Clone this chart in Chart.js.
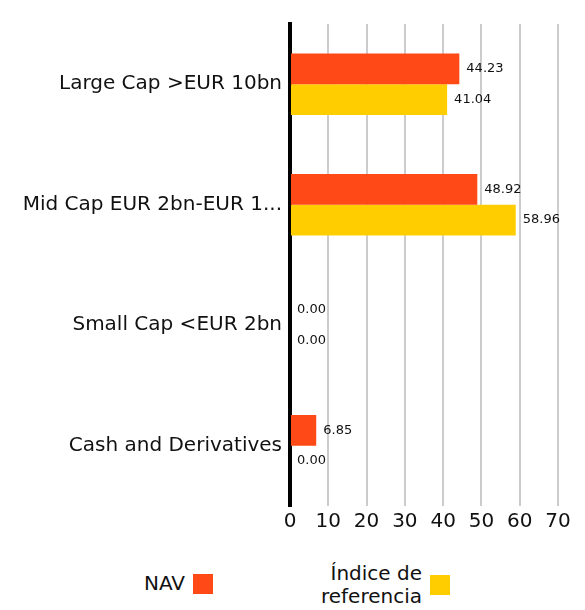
<!DOCTYPE html>
<html><head><meta charset="utf-8">
<script src="https://cdn.jsdelivr.net/npm/chart.js@4/dist/chart.umd.min.js"></script>
<style>
html,body{margin:0;padding:0;background:#fff;width:585px;height:610px;overflow:hidden;font-family:"DejaVu Sans",sans-serif;}
#wrap{position:absolute;left:0;top:0;width:585px;height:538px;}
.leg{position:absolute;display:flex;align-items:center;font-size:20px;color:#111;line-height:23px;}
.leg .t{text-align:right;margin-right:8px;}
.leg .b{width:20px;height:20px;}
</style></head><body>
<div id="wrap"><canvas id="c"></canvas></div>
<div class="leg" style="right:372px;top:572px;"><div class="t">NAV</div><div class="b" id="b0"></div></div>
<div class="leg" style="right:135px;top:562px;"><div class="t">Índice de<br>referencia</div><div class="b" id="b1"></div></div>
<script>
const categories = ["Large Cap >EUR 10bn","Mid Cap EUR 2bn-EUR 10bn","Small Cap <EUR 2bn","Cash and Derivatives"];
const seriesNames = ["NAV","Índice de referencia"];
const navValues = [44.23, 48.92, 0.00, 6.85];
const benchValues = [41.04, 58.96, 0.00, 0.00];
const xTicks = [0,10,20,30,40,50,60,70];
const colors = ["#FF4A17","#FFCD00"];
document.getElementById('b0').style.background = colors[0];
document.getElementById('b1').style.background = colors[1];
const FONT = '"DejaVu Sans", sans-serif';

const valueLabels = {
  id:'valueLabels',
  afterDatasetsDraw(chart){
    const ctx = chart.ctx;
    ctx.save();
    ctx.font = '13px ' + FONT;
    ctx.fillStyle = '#111';
    ctx.textBaseline = 'middle';
    ctx.textAlign = 'left';
    chart.data.datasets.forEach((ds,i)=>{
      chart.getDatasetMeta(i).data.forEach((bar,j)=>{
        ctx.fillText(ds.data[j].toFixed(2), bar.x + 7, bar.y);
      });
    });
    ctx.restore();
  }
};

new Chart(document.getElementById('c'), {
  type:'bar',
  data:{
    labels: categories,
    datasets:[
      {label:seriesNames[0], data:navValues, backgroundColor:colors[0], barPercentage:1, categoryPercentage:0.51},
      {label:seriesNames[1], data:benchValues, backgroundColor:colors[1], barPercentage:1, categoryPercentage:0.51}
    ]
  },
  options:{
    indexAxis:'y',
    responsive:true,
    maintainAspectRatio:false,
    animation:false,
    layout:{padding:{top:24,right:27,left:0,bottom:0}},
    plugins:{legend:{display:false}, tooltip:{enabled:false}},
    scales:{
      x:{
        min:0,max:70,
        afterBuildTicks(scale){ scale.ticks = xTicks.map(v=>({value:v})); },
        grid:{color:'#cccccc', lineWidth:2, drawTicks:false},
        border:{display:false},
        ticks:{color:'#111', font:{size:20, family:FONT}, padding:4, maxRotation:0}
      },
      y:{
        grid:{display:false, drawTicks:false},
        border:{display:true, color:'#000', width:4},
        afterFit(scale){ scale.width = 290; },
        ticks:{
          color:'#111', padding:8,
          font:{size:20, family:FONT},
          callback(v){ const s = categories[v]; return s.length > 21 ? s.slice(0,21) + '...' : s; }
        }
      }
    }
  },
  plugins:[valueLabels]
});
</script>
</body></html>
